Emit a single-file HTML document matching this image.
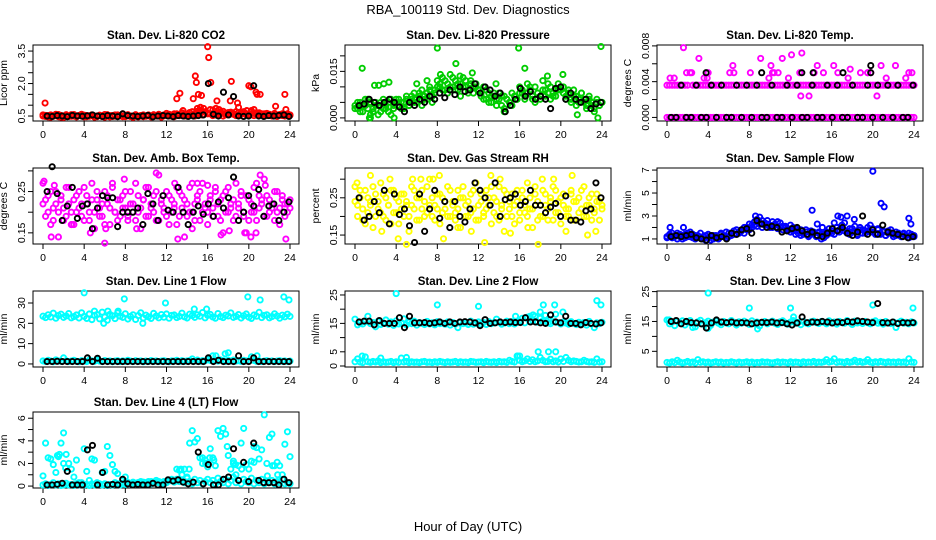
<!DOCTYPE html>
<html><head><meta charset="utf-8"><style>
html,body{margin:0;padding:0;background:#fff;}
svg{display:block;font-family:"Liberation Sans",Arial,sans-serif;}
</style></head><body>
<svg id="chart" width="936" height="540" viewBox="0 0 936 540" xmlns="http://www.w3.org/2000/svg">
<rect x="0" y="0" width="936" height="540" fill="#fff"/>
<text x="468" y="14" text-anchor="middle" font-size="13">RBA_100119  Std. Dev. Diagnostics</text>
<text x="468" y="531" text-anchor="middle" font-size="13">Hour of Day (UTC)</text>
</svg>
<script>
const xTicks=[0,4,8,12,16,20,24];

const co2Red1=[0.55,0.48,0.52,0.45,0.5,0.58,0.47,0.53,0.44,0.56,0.5,0.49,0.57,0.46,0.52,0.5,0.54,0.47,0.51,0.55,0.45,0.5,0.53,0.48,0.57,0.5,0.46,0.52,0.49,0.55,0.51,0.6,0.47,0.53,0.5,0.44,0.56,0.49,0.52,0.47,0.5,0.55,0.46,0.53,0.5,0.58,0.48,0.51,0.62,0.5,0.55,0.47,0.6,0.52,0.65,0.5,0.58,0.55,0.7,0.5,0.62,0.75,0.55,0.68,0.6,0.8,0.52,0.65,0.58,0.7,0.5,0.62,0.55,0.68,0.6,0.52,0.66,0.58,0.7,0.55,0.6,0.75,0.52,0.65,0.58,0.6,0.5,0.62,0.55,0.5,0.58,0.48,0.55,0.6,0.5,0.52,0.55];
const co2Red2=[0.5,0.53,0.46,0.55,0.49,0.52,0.57,0.45,0.5,0.54,0.48,0.56,0.5,0.47,0.53,0.58,0.46,0.52,0.49,0.55,0.5,0.47,0.54,0.51,0.45,0.56,0.52,0.48,0.55,0.5,0.53,0.47,0.52,0.56,0.48,0.5,0.54,0.46,0.51,0.55,0.49,0.52,0.47,0.56,0.5,0.53,0.45,0.55,0.52,0.58,0.5,0.6,0.55,0.52,0.62,0.57,0.5,0.66,0.54,0.6,0.72,0.58,0.55,0.7,0.62,0.6,0.78,0.55,0.64,0.6,0.72,0.56,0.66,0.6,0.58,0.7,0.55,0.62,0.68,0.6,0.55,0.7,0.62,0.58,0.65,0.55,0.6,0.52,0.58,0.55,0.62,0.5,0.57,0.52,0.55,0.6,0.53];
const co2Outliers=[[0.2,1.1],[13,1.3],[13.3,1.55],[14.6,1.3],[14.8,2.35],[14.9,2.05],[15.1,1.5],[15.4,1.45],[15.3,0.9],[16,3.7],[16.1,3.2],[16.3,2.05],[16.9,1.2],[18.3,2.1],[18.2,1.2],[18.9,1.1],[19,0.9],[20,1.9],[20.2,1.85],[20.7,1.6],[20.8,1.5],[21.1,1.5],[22.6,0.95],[23.5,1.5],[23.6,0.8],[15.6,0.85],[16.8,0.85],[17.1,0.8],[19.8,0.75],[20.5,0.8],[13.6,0.75],[15.0,0.85]];
const co2Black=[0.5,0.48,0.52,0.5,0.47,0.53,0.5,0.49,0.51,0.55,0.5,0.48,0.52,0.5,0.47,0.6,0.52,0.5,0.48,0.5,0.53,0.46,0.5,0.52,0.5,0.47,0.52,0.5,0.48,0.5,0.52,0.55,2.0,0.58,0.5,1.6,0.55,1.4,0.5,0.48,0.5,1.9,0.5,0.48,0.52,0.5,0.53,0.55,0.48];

const presGreen1=[0.004,0.003,0.005,0.002,0.004,0.006,0.001,0.003,0.005,0.004,0.002,0.006,0.003,0.005,0.001,0.004,0.006,0.004,0.005,0.003,0.006,0.004,0.007,0.005,0.006,0.008,0.004,0.007,0.006,0.009,0.005,0.008,0.010,0.011,0.009,0.012,0.008,0.010,0.013,0.009,0.011,0.007,0.010,0.012,0.009,0.011,0.008,0.010,0.009,0.008,0.006,0.009,0.005,0.007,0.008,0.004,0.006,0.007,0.003,0.006,0.005,0.004,0.007,0.006,0.008,0.009,0.006,0.008,0.010,0.007,0.005,0.008,0.006,0.009,0.007,0.011,0.006,0.008,0.007,0.009,0.010,0.008,0.006,0.009,0.005,0.007,0.004,0.006,0.008,0.005,0.003,0.006,0.004,0.002,0.005,0.004,0.005];
const presGreen2=[0.003,0.005,0.002,0.004,0.006,0.003,0.005,0.002,0.004,0.001,0.005,0.003,0.004,0.002,0.006,0.003,0.005,0.006,0.003,0.005,0.007,0.004,0.006,0.008,0.005,0.007,0.009,0.006,0.008,0.010,0.007,0.009,0.012,0.010,0.013,0.009,0.011,0.014,0.010,0.012,0.009,0.011,0.013,0.010,0.008,0.012,0.010,0.011,0.009,0.007,0.010,0.006,0.008,0.005,0.007,0.006,0.008,0.004,0.007,0.006,0.005,0.008,0.007,0.006,0.010,0.008,0.007,0.011,0.009,0.006,0.010,0.008,0.007,0.012,0.009,0.008,0.010,0.007,0.009,0.011,0.009,0.010,0.007,0.008,0.006,0.009,0.007,0.005,0.008,0.006,0.004,0.007,0.005,0.003,0.006,0.004,0.005];
const presOutliers=[[0.7,0.016],[1.9,0.0105],[2.3,0.0105],[2.8,0.011],[3.3,0.0115],[9.8,0.0175],[8.0,0.0225],[15.9,0.0225],[16.5,0.016],[23.9,0.023],[11.4,0.0145],[8.3,0.014],[1.4,0.0],[1.5,0.0],[3.8,0.0],[23.6,0.0],[18.7,0.0135],[20.2,0.014],[13.7,0.011],[21.6,0.001],[14.5,0.002],[6.0,0.011],[7.0,0.012],[10.2,0.0135]];
const presBlack=[0.004,0.0045,0.006,0.005,0.004,0.005,0.006,0.005,0.0035,0.002,0.005,0.004,0.006,0.005,0.007,0.006,0.008,0.0065,0.009,0.0075,0.010,0.0085,0.009,0.011,0.008,0.010,0.009,0.007,0.008,0.002,0.004,0.006,0.0095,0.007,0.0085,0.006,0.007,0.006,0.003,0.0095,0.010,0.006,0.008,0.006,0.005,0.006,0.003,0.0045,0.005];

const tempMag1=[0,0,0,0,0,0,0,0,0,0,0,0,0,0,0,0,0,0,0,0,0,0,0,0,0,0,0,0,0,0,0,0,0,0,0,0,0,0,0,0,0,0,0,0,0,0,0,0,0,0,0,0,0,0,0,0,0,0,0,0,0,0,0,0,0,0,0,0,0,0,0,0,0,0,0,0,0,0,0,0,0,0,0,0,0,0,0,0,0,0,0,0,0,0,0,0,0];
const tempMag2=[0.0036,0.0036,0.0036,0.0036,0.0036,0.0036,0.0036,0.0036,0.0036,0.005,0.0036,0.0036,0.0036,0.0036,0.0036,0.0036,0.0036,0.0036,0.0036,0.0036,0.0036,0.0036,0.0036,0.0036,0.0036,0.0036,0.0036,0.0036,0.0036,0.0036,0.0036,0.0036,0.0036,0.0036,0.0036,0.0036,0.0036,0.0036,0.0036,0.0036,0.0036,0.005,0.0036,0.0036,0.0036,0.0036,0.0036,0.0036,0.0036,0.0036,0.0036,0.0036,0.0036,0.0036,0.0036,0.0036,0.0036,0.0036,0.0036,0.0036,0.0036,0.0036,0.0036,0.0036,0.0036,0.0036,0.0036,0.0036,0.0036,0.0036,0.0036,0.0036,0.0036,0.0036,0.0036,0.0036,0.0036,0.0036,0.005,0.0036,0.0036,0.0036,0.0036,0.0036,0.0036,0.0036,0.0036,0.0036,0.0036,0.0036,0.0036,0.0036,0.0036,0.0036,0.0036,0.0036,0.0036];
const tempOutliers=[[0.3,0.0044],[0.7,0.0044],[1.9,0.005],[2.4,0.005],[3.1,0.0066],[3.6,0.0044],[3.9,0.0044],[4.0,0.005],[6.1,0.005],[6.4,0.0058],[8.1,0.005],[9.1,0.0066],[9.9,0.0044],[10.1,0.0058],[10.4,0.005],[11.2,0.0066],[12.1,0.007],[11.8,0.0044],[13.1,0.0072],[13.0,0.0024],[13.8,0.0024],[14.6,0.0058],[14.3,0.005],[16.2,0.0058],[17.6,0.0044],[17.8,0.0054],[19.5,0.005],[20.4,0.0024],[20.8,0.0058],[21.3,0.0044],[22.2,0.0058],[23.2,0.0044],[23.5,0.005],[1.6,0.0078],[16.6,0.005],[15.2,0.005],[10.8,0.005],[6.5,0.005],[19.8,0.005],[23.8,0.005],[12.9,0.005],[18.8,0.005]];
const tempBlack=[0,0,0.0036,0,0,0.0036,0,0,0.0036,0,0.0036,0,0,0.0036,0,0.0036,0,0.0036,0,0,0.0036,0,0,0.0036,0,0.0036,0,0,0.0036,0,0,0.0036,0,0.0036,0,0,0.0036,0,0,0.0036,0,0.0036,0,0.0036,0,0.0036,0,0,0.0036];
const tempBlackOutliers=[[3.8,0.005],[9.2,0.005],[13.1,0.005],[14.2,0.005],[17.1,0.005],[19.8,0.0058],[19.8,0.005]];

const boxMag1=[0.27,0.23,0.2,0.25,0.18,0.22,0.14,0.24,0.21,0.19,0.26,0.17,0.23,0.2,0.25,0.22,0.18,0.24,0.2,0.27,0.16,0.23,0.21,0.19,0.25,0.22,0.17,0.26,0.2,0.23,0.19,0.24,0.21,0.18,0.25,0.22,0.27,0.2,0.16,0.23,0.19,0.26,0.21,0.24,0.18,0.29,0.22,0.2,0.25,0.17,0.23,0.21,0.26,0.19,0.24,0.14,0.22,0.2,0.27,0.18,0.23,0.25,0.2,0.22,0.17,0.24,0.21,0.26,0.19,0.23,0.15,0.25,0.2,0.22,0.18,0.27,0.21,0.24,0.19,0.15,0.23,0.2,0.26,0.18,0.24,0.22,0.28,0.19,0.23,0.21,0.25,0.2,0.17,0.24,0.22,0.2,0.23];
const boxMag2=[0.22,0.19,0.24,0.17,0.21,0.25,0.2,0.23,0.18,0.26,0.22,0.2,0.17,0.24,0.21,0.19,0.26,0.22,0.18,0.23,0.2,0.25,0.19,0.22,0.17,0.24,0.21,0.27,0.2,0.18,0.23,0.21,0.25,0.19,0.22,0.2,0.18,0.24,0.21,0.23,0.26,0.19,0.22,0.2,0.25,0.18,0.23,0.21,0.19,0.24,0.2,0.22,0.17,0.25,0.21,0.23,0.19,0.26,0.2,0.22,0.24,0.18,0.27,0.21,0.2,0.23,0.19,0.25,0.22,0.18,0.24,0.2,0.26,0.21,0.23,0.19,0.22,0.25,0.2,0.24,0.18,0.22,0.2,0.27,0.21,0.23,0.19,0.24,0.2,0.22,0.18,0.25,0.21,0.23,0.19,0.22,0.21];
const boxOutliers=[[0.1,0.275],[0.8,0.14],[1.1,0.265],[2.8,0.17],[4.6,0.15],[6.0,0.125],[6.1,0.16],[7.9,0.28],[9.1,0.16],[11.0,0.295],[13.1,0.135],[12.8,0.27],[15.0,0.27],[16.0,0.265],[17.3,0.145],[18.1,0.155],[20.2,0.14],[20.7,0.15],[21.1,0.29],[21.6,0.265],[23.6,0.135],[19.6,0.15],[14.5,0.16]];
const boxBlack=[0.25,0.31,0.245,0.18,0.215,0.26,0.185,0.215,0.22,0.16,0.21,0.24,0.235,0.235,0.165,0.2,0.2,0.2,0.21,0.17,0.245,0.22,0.18,0.24,0.205,0.2,0.26,0.2,0.17,0.2,0.215,0.195,0.22,0.19,0.225,0.21,0.235,0.285,0.18,0.2,0.24,0.215,0.255,0.19,0.215,0.22,0.18,0.2,0.225];

const rhYel1=[0.28,0.23,0.25,0.19,0.27,0.21,0.24,0.17,0.26,0.22,0.29,0.2,0.25,0.23,0.18,0.27,0.21,0.24,0.26,0.2,0.23,0.16,0.28,0.22,0.25,0.19,0.27,0.24,0.21,0.3,0.2,0.23,0.26,0.18,0.25,0.22,0.28,0.2,0.24,0.21,0.27,0.17,0.25,0.23,0.2,0.26,0.22,0.29,0.19,0.24,0.21,0.27,0.23,0.18,0.25,0.2,0.28,0.22,0.16,0.26,0.24,0.2,0.23,0.27,0.19,0.25,0.21,0.29,0.22,0.17,0.26,0.24,0.2,0.27,0.23,0.19,0.25,0.28,0.21,0.24,0.18,0.26,0.22,0.2,0.27,0.24,0.19,0.25,0.22,0.28,0.2,0.23,0.26,0.21,0.24,0.19,0.23];
const rhYel2=[0.24,0.2,0.27,0.22,0.18,0.25,0.23,0.28,0.2,0.24,0.21,0.26,0.19,0.23,0.27,0.21,0.25,0.18,0.22,0.26,0.24,0.2,0.23,0.27,0.19,0.25,0.22,0.2,0.28,0.23,0.25,0.19,0.22,0.26,0.21,0.24,0.2,0.27,0.23,0.19,0.22,0.25,0.28,0.2,0.24,0.21,0.27,0.19,0.23,0.26,0.2,0.22,0.25,0.28,0.21,0.24,0.19,0.23,0.27,0.2,0.22,0.26,0.18,0.24,0.21,0.27,0.23,0.2,0.25,0.22,0.28,0.19,0.23,0.2,0.26,0.22,0.24,0.19,0.27,0.21,0.25,0.23,0.2,0.22,0.26,0.19,0.24,0.21,0.27,0.2,0.23,0.25,0.19,0.22,0.26,0.24,0.22];
const rhOutliers=[[0.2,0.29],[1.5,0.31],[2.6,0.16],[3.4,0.3],[4.2,0.14],[5.0,0.125],[5.6,0.3],[7.6,0.3],[8.2,0.31],[8.6,0.14],[10.0,0.17],[11.3,0.16],[12.6,0.13],[13.2,0.31],[14.1,0.3],[15.1,0.155],[16.8,0.17],[17.8,0.125],[19.3,0.3],[20.5,0.16],[21.1,0.31],[22.6,0.15],[23.4,0.16],[18.2,0.3],[6.4,0.3]];
const rhBlack=[0.25,0.19,0.2,0.24,0.21,0.27,0.18,0.26,0.205,0.22,0.175,0.13,0.26,0.16,0.22,0.27,0.195,0.24,0.17,0.24,0.2,0.185,0.22,0.29,0.27,0.25,0.23,0.29,0.2,0.245,0.25,0.26,0.23,0.24,0.27,0.23,0.23,0.21,0.225,0.235,0.2,0.255,0.19,0.19,0.185,0.215,0.22,0.29,0.25];

const flowBlue1=[1.2,1.4,1.1,1.3,1.5,1.2,1.0,1.4,1.2,1.6,1.1,1.3,1.2,1.5,1.0,1.3,1.1,0.9,1.3,1.2,1.0,1.4,1.2,1.1,1.5,1.3,1.7,1.4,1.6,1.8,1.5,2.0,1.8,2.2,2.5,2.1,2.4,2.6,2.2,2.3,2.0,2.5,2.2,1.9,2.4,2.1,2.0,1.8,2.2,1.7,1.9,1.5,1.8,1.4,1.6,1.3,1.7,1.5,1.2,1.6,1.4,1.1,1.3,1.5,1.7,1.4,2.0,1.8,2.2,1.7,1.5,1.9,1.6,2.1,1.4,1.8,1.5,1.7,2.0,1.6,1.9,1.5,1.8,1.4,1.6,1.3,1.7,1.5,1.2,1.6,1.4,1.2,1.5,1.3,1.1,1.4,1.2];
const flowBlue2=[1.1,1.3,1.5,1.2,1.0,1.4,1.3,1.1,1.5,1.2,1.4,1.0,1.3,1.1,1.2,0.9,1.4,1.2,1.0,1.3,1.1,1.5,1.3,1.6,1.2,1.5,1.4,1.8,1.5,1.7,2.0,1.8,2.3,2.0,2.2,2.7,2.3,2.0,2.4,2.6,2.2,2.0,2.3,2.5,2.0,1.8,2.1,1.9,1.6,2.0,1.4,1.7,1.3,1.5,1.8,1.2,1.4,1.6,1.3,1.5,1.0,1.4,1.6,1.9,1.5,2.4,2.0,1.6,1.9,2.4,1.7,1.4,1.9,1.6,1.3,2.0,1.8,1.5,1.7,2.2,1.6,1.4,1.9,1.5,1.7,1.3,1.5,1.8,1.4,1.3,1.5,1.2,1.4,1.3,1.5,1.2,1.3];
const flowOutliers=[[20,6.9],[20.8,4.1],[21.1,3.8],[23.5,2.8],[23.7,2.3],[14.1,3.5],[17.5,3.0],[16.6,3.0],[16.9,2.9],[0.3,2.0],[1.6,2.0],[8.6,3.0],[9.0,2.9],[14.6,2.3],[15.1,2.0],[18.2,2.7]];
const flowBlack=[1.2,1.3,1.2,1.3,1.4,1.1,1.0,0.9,1.3,1.1,1.2,1.0,1.5,1.4,1.8,1.9,1.5,2.6,2.3,2.0,2.1,2.0,1.6,1.7,1.9,2.0,1.7,1.4,1.6,1.3,1.2,1.5,1.9,1.7,2.0,1.5,1.3,1.6,3.0,1.4,1.8,1.4,2.2,1.6,1.5,1.4,1.2,1.1,1.2];

const l1Cyan1=[23.5,22.8,24.2,23.1,25,22.5,23.8,24.5,22.9,23.6,24.8,22.7,23.3,24.1,22.6,25.2,23.4,22.4,24.6,21.8,23.9,24.3,22.2,25.5,23.1,21.5,24.4,23.7,22.3,25.1,23.5,22.9,24.7,22.1,23.4,24.2,21.9,23.8,25.2,22.6,24,23.2,22.4,24.9,23.6,22.7,24.3,23,24.6,22.5,23.9,24.1,22.8,23.4,25,23.2,22.6,24.5,23.8,22.9,24.2,23.5,25.3,22.7,23.9,24.4,23.1,22.5,24.8,23.3,22.8,24,23.6,25.1,22.9,23.4,24.3,22.6,23.7,24.6,23,22.4,24.1,23.5,25.4,22.8,23.9,24.2,22.7,23.3,24.7,23.6,22.5,24,23.2,24.5,23.4];
const l1Cyan2=[1.5,1.2,1.8,1.4,1.1,2.0,1.5,1.3,3.0,1.6,1.2,1.4,1.8,1.3,1.1,1.6,1.4,1.2,1.9,1.5,1.3,2.0,1.4,1.2,1.7,1.3,1.5,1.1,1.4,1.6,1.2,1.5,1.3,1.8,1.4,1.2,1.6,1.3,1.5,1.1,1.4,1.2,1.7,1.3,1.5,1.2,1.4,1.6,1.3,1.1,1.5,1.4,1.8,1.2,1.6,1.3,1.5,1.7,2.5,1.4,1.9,1.3,1.6,1.5,2.2,1.7,4.0,1.8,1.4,2.0,1.6,1.3,1.8,1.5,1.9,1.4,1.6,1.3,1.8,1.5,1.4,3.5,1.7,1.3,1.5,1.2,1.4,1.6,1.3,1.5,1.2,1.4,1.6,1.3,1.5,1.2,1.4];
const l1Outliers=[[4,35],[7.9,32],[11.9,30],[19.9,33],[21.1,31.5],[23.4,33],[23.9,31.5],[15.9,27],[14.7,27],[5.9,20],[9.7,20],[17.7,5],[18.0,5.5],[20.8,4],[16.8,4],[5.0,26],[6.3,26],[7.3,26]];
const l1Black=[1.2,1.2,1.3,1.2,1.2,1.2,1.2,1.2,3.0,1.2,2.8,1.2,1.2,1.2,1.2,1.2,1.2,1.2,1.2,1.2,1.2,1.2,1.2,1.2,1.2,1.2,1.2,1.2,1.2,1.2,1.2,1.2,3.0,1.2,1.8,1.2,1.2,1.2,4.0,1.2,1.2,3.0,1.2,1.2,1.2,1.2,1.2,1.2,1.2];

const l2Cyan1=[16.5,14.5,15.2,14.8,15.6,17.5,14.9,15.3,13.8,15.7,14.6,15.1,16.2,14.7,15.5,14.3,15.9,14.8,15.2,16.6,14.5,15.4,14.9,15.8,14.4,15.3,15.0,14.6,15.7,14.8,15.2,14.5,15.6,14.9,15.1,14.7,15.5,14.4,15.3,14.8,13.5,15.4,14.9,15.2,14.6,15.8,14.7,15.0,15.5,14.8,15.3,14.6,15.6,14.9,15.2,16.5,15.4,14.7,15.1,15.8,14.9,15.6,14.8,15.3,15.7,16.8,15.2,17.2,15.6,16.0,17.5,15.4,16.8,15.9,17.8,15.2,14.9,15.6,18.2,15.3,14.8,15.5,15.1,14.7,15.6,15.0,14.6,15.4,14.9,15.3,14.4,15.7,14.8,13.5,15.2,14.9,15.4];
const l2Cyan2=[1.5,2.5,1.4,1.2,3.2,1.5,1.3,1.6,1.4,1.8,1.2,1.5,1.3,1.4,1.6,1.2,1.5,1.3,2.8,1.4,1.6,1.2,1.5,1.3,1.4,1.2,1.5,1.6,1.3,1.4,1.2,1.5,1.3,1.6,1.4,1.2,1.5,1.3,1.4,1.6,1.2,1.5,1.3,1.4,1.2,1.6,1.5,1.3,1.4,1.5,1.2,1.6,1.4,1.3,1.5,1.2,1.6,1.4,1.5,1.3,2.0,1.6,1.4,3.5,2.0,1.5,1.8,2.5,1.6,2.2,1.5,1.8,3.0,2.0,1.5,1.6,2.4,1.5,1.8,1.4,2.5,1.6,3.0,2.0,1.5,1.8,1.6,1.4,1.5,2.0,1.6,1.4,1.5,1.3,2.5,1.4,1.5];
const l2Outliers=[[4,25.5],[8,21.5],[12,21],[16.7,17],[17,17.5],[17.3,18],[18,19],[18.3,21.5],[19,18],[19.4,21.5],[18.8,16.5],[23.5,23],[23.9,21.5],[20.2,19],[15.8,3.5],[16.0,3.5],[17.8,5],[18.8,5],[19.5,5],[0.7,3.5],[2.5,2.8],[5.0,3.0],[18.6,16],[15.6,17.5]];
const l2Black=[15.5,15.8,15.8,14.5,16,15,15,15,17,13.5,17.5,15.2,15.2,15.3,15,15.2,15.5,15,15.5,15,15.5,15.6,15.5,15.2,14.2,16.3,15,15.2,15.5,15.3,15.5,15.3,15.3,17,15.5,15.5,15.2,15,18,15.5,15.2,17.5,15,15,14.5,15.3,15,14.8,15.2];

const l3Cyan1=[15.5,14.2,14.8,13.6,15.0,14.5,15.2,13.8,14.7,15.3,14.3,13.2,14.9,15.4,14.1,14.6,15.1,13.7,14.8,15.2,14.4,13.9,15.0,14.5,14.2,15.3,14.7,13.8,14.9,14.4,15.1,14.6,14.0,15.2,14.3,14.8,13.5,14.6,15.0,14.2,14.7,15.1,14.4,14.0,14.9,15.2,14.5,14.1,14.8,15.3,14.4,14.7,13.9,15.0,14.5,14.2,14.9,15.1,14.6,14.3,15.0,14.7,14.2,15.2,14.5,14.8,14.1,15.0,14.6,14.4,15.3,14.7,14.0,15.1,14.5,14.8,14.3,15.0,14.6,14.2,14.9,15.2,14.4,14.7,14.1,15.0,14.5,14.3,14.8,13.0,14.6,15.1,14.4,14.7,14.2,14.9,14.5];
const l3Cyan2=[1.3,1.1,1.5,1.2,2.0,1.4,1.1,1.3,1.6,1.2,1.4,1.1,2.2,1.3,1.5,1.2,1.4,1.1,1.3,1.5,1.2,1.4,1.1,1.3,1.2,1.5,1.3,1.1,1.4,1.2,1.3,1.5,1.2,1.4,1.1,1.3,1.2,1.5,1.3,1.4,1.2,1.1,1.3,1.5,1.2,1.4,1.3,1.1,1.5,1.2,1.4,1.3,1.1,1.5,1.2,1.4,1.3,1.6,1.2,1.4,1.3,1.5,2.2,1.4,1.6,2.5,1.3,1.5,1.4,1.2,1.6,1.3,1.5,2.0,1.4,1.6,1.3,1.5,2.2,1.4,1.2,1.5,1.3,1.6,1.4,1.2,1.5,1.3,1.4,1.2,1.5,1.3,1.4,1.2,2.5,1.4,1.3];
const l3Outliers=[[4,24.5],[8,19.5],[12,19.5],[12.3,16.5],[20,20.5],[23.9,19.5],[4,12.7],[8.8,12.5],[0.2,15.5],[2.5,13]];
const l3Black=[15,15.3,14.2,15,14.6,14.5,14.2,12.8,14.5,15.5,14.8,14.6,14.8,14.5,14.6,14.5,14.2,14.5,14.7,14.6,14.8,14.5,14.6,14.2,13.8,14.5,16.5,14.6,14.8,14.7,15,14.8,14.5,14.8,14.6,15,14.8,15.2,15,14.8,14.6,21,14.6,14.5,14.8,14.3,14.6,14.5,14.6];

const l4Cyan1=[0.1,0.2,0.05,0.15,0.3,0.1,0.2,0.05,0.1,0.25,0.1,0.15,0.05,0.2,0.1,0.3,0.1,0.15,0.05,0.2,0.1,0.25,0.15,0.1,0.2,0.05,0.15,0.1,0.3,0.2,0.1,0.25,0.15,0.3,0.2,0.35,0.25,0.3,0.2,0.35,0.25,0.3,0.4,0.25,0.35,0.3,0.2,0.4,0.3,0.45,0.5,0.35,0.6,0.4,0.5,0.3,0.7,0.4,0.2,0.6,0.3,0.5,0.2,0.4,0.6,0.3,0.5,0.2,0.7,0.4,0.3,0.6,0.2,0.5,0.8,0.3,0.5,0.2,0.6,0.4,0.3,0.7,0.2,0.5,0.3,0.6,0.2,0.4,0.3,0.5,0.2,0.4,0.3,0.6,0.2,0.3,0.2];
const l4Cyan2=[0.9,3.8,2.5,2.4,1.9,1.2,2.6,3.8,4.7,2.8,2.0,1.5,0.8,2.3,0.3,0.2,3.3,1.3,0.5,2.4,2.3,0.3,0.2,1.2,1.3,3.5,2.7,1.9,1.3,1.1,0.2,0.5,0.8,0.3,0.2,0.3,0.2,0.3,0.4,0.2,0.3,0.4,0.2,0.3,0.5,0.4,0.3,0.2,0.4,0.5,0.6,0.4,1.5,1.4,1.0,1.5,0.8,3.8,4.9,3.9,4.2,2.5,2.0,2.3,1.7,3.3,2.5,1.8,4.9,4.4,5.1,4.6,2.7,1.5,2.0,1.0,1.8,3.8,5.1,1.9,1.5,2.2,3.5,3.4,2.4,3.2,6.3,2.0,4.3,4.6,1.8,2.1,1.8,1.0,3.7,4.8,2.6];
const l4Outliers=[[1.6,2.8],[1.4,2.7],[2.0,2.0],[2.2,1.6],[15.5,2.5],[15.8,2.0],[16.2,2.5],[16.6,2.3],[17.9,3.5],[18.5,2.2],[18.7,1.9],[19.3,1.5],[20.5,2.1],[22.3,1.8],[21.8,0.9],[22.8,1.0],[13.4,1.5],[14.2,1.5]];
const l4Black=[0.1,0.1,0.15,0.25,1.3,0.1,0.1,0.1,3.2,3.6,0.1,1.2,0.1,0.15,0.1,0.6,0.2,0.1,0.15,0.1,0.1,0.25,0.1,0.1,0.55,0.45,0.55,0.35,0.2,0.35,3.0,0.2,1.9,0.1,0.1,0.6,0.8,3.3,0.5,2.1,0.4,3.8,0.5,0.3,0.3,0.3,0.1,0.6,0.3];

const svg=document.getElementById('chart');
const NS='http://www.w3.org/2000/svg';
const rowTops=[45,168,291,412];
function mk(tag,attrs,parent){const e=document.createElementNS(NS,tag);for(const k in attrs)e.setAttribute(k,attrs[k]);parent.appendChild(e);return e;}

function panel(p){
  const left=33+p.col*312, right=left+266, top=rowTops[p.row], bottom=top+76;
  const g=mk('g',{},svg);
  
  
  const xs=h=>left+10+h*(247/24);
  const ys=v=>bottom-(v-p.ylim[0])/(p.ylim[1]-p.ylim[0])*76;
  const t=mk('text',{x:(left+right)/2,y:top-6,'text-anchor':'middle','font-size':'11.5','font-weight':'bold'},g);
  t.textContent=p.title;
  
  
  const yt=mk('text',{x:0,y:0,'text-anchor':'middle','font-size':'10.5',transform:`translate(${left-26},${(top+bottom)/2}) rotate(-90)`},g);
  yt.textContent=p.ytitle;
  
  
  const xa=mk('g',{},g);
  
  
  mk('line',{x1:xs(xTicks[0]),x2:xs(xTicks[xTicks.length-1]),y1:bottom,y2:bottom,stroke:'#000','stroke-width':1},xa);
  xTicks.forEach(h=>{
    mk('line',{x1:xs(h),x2:xs(h),y1:bottom,y2:bottom+5,stroke:'#000'},xa);
    const l=mk('text',{x:xs(h),y:bottom+17,'text-anchor':'middle','font-size':'10.5'},xa);
    l.textContent=h;
  });
  const ya=mk('g',{},g);
  
  
  mk('line',{x1:left,x2:left,y1:ys(p.ticks[0]),y2:ys(p.ticks[p.ticks.length-1]),stroke:'#000'},ya);
  p.ticks.forEach((v,i)=>{
    mk('line',{x1:left-5,x2:left,y1:ys(v),y2:ys(v),stroke:'#000'},ya);
    if(p.labels[i]!==''){
      const l=mk('text',{x:0,y:0,'text-anchor':'middle','font-size':'10.5',transform:`translate(${left-8},${ys(v)}) rotate(-90)`},ya);
      l.textContent=p.labels[i];
    }
  });
  const box=mk('rect',{x:left,y:top,width:right-left,height:bottom-top,fill:'none',stroke:'#000','stroke-width':1},g);
  
  
  const pts=mk('g',{},g);
  function dot(h,v,color,nm){
    const c=mk('circle',{cx:xs(h),cy:ys(v),r:2.6,fill:'none',stroke:color,'stroke-width':1.9},pts);
    
    
  }
  [p.c1,p.c2].forEach(arr=>arr.forEach((v,i)=>dot(i*24/(arr.length-1),v,p.color,p.name+'-point')));
  p.co.forEach(d=>dot(d[0],d[1],p.color,p.name+'-point'));
  p.k.forEach((v,i)=>dot(0.4+i*23.5/(p.k.length-1),v,'#000',p.name+'-avg-point'));
  (p.ko||[]).forEach(d=>dot(d[0],d[1],'#000',p.name+'-avg-point'));
}

panel({name:'co2',col:0,row:0,title:'Stan. Dev. Li-820 CO2',ytitle:'Licor ppm',ylim:[0.27,3.78],ticks:[0.5,1.0,1.5,2.0,2.5,3.0,3.5],labels:['0.5','','','2.0','','','3.5'],color:'#ff0000',c1:co2Red1,c2:co2Red2,co:co2Outliers,k:co2Black});
panel({name:'pressure',col:1,row:0,title:'Stan. Dev. Li-820 Pressure',ytitle:'kPa',ylim:[-0.001,0.0235],ticks:[0,0.005,0.01,0.015,0.02],labels:['0.000','','','0.015',''],color:'#00cd00',c1:presGreen1,c2:presGreen2,co:presOutliers,k:presBlack});
panel({name:'li820-temp',col:2,row:0,title:'Stan. Dev. Li-820 Temp.',ytitle:'degrees C',ylim:[-0.0004,0.0081],ticks:[0,0.002,0.004,0.006,0.008],labels:['0.000','','0.004','','0.008'],color:'#ff00ff',c1:tempMag1,c2:tempMag2,co:tempOutliers,k:tempBlack,ko:tempBlackOutliers});
panel({name:'box-temp',col:0,row:1,title:'Stan. Dev. Amb. Box Temp.',ytitle:'degrees C',ylim:[0.123,0.307],ticks:[0.15,0.2,0.25,0.3],labels:['0.15','','0.25',''],color:'#ff00ff',c1:boxMag1,c2:boxMag2,co:boxOutliers,k:boxBlack});
panel({name:'gas-rh',col:1,row:1,title:'Stan. Dev. Gas Stream RH',ytitle:'percent',ylim:[0.126,0.33],ticks:[0.15,0.2,0.25,0.3],labels:['0.15','','0.25',''],color:'#ffff00',c1:rhYel1,c2:rhYel2,co:rhOutliers,k:rhBlack});
panel({name:'sample-flow',col:2,row:1,title:'Stan. Dev. Sample Flow',ytitle:'ml/min',ylim:[0.56,7.18],ticks:[1,2,3,4,5,6,7],labels:['1','','3','','5','','7'],color:'#0000ff',c1:flowBlue1,c2:flowBlue2,co:flowOutliers,k:flowBlack});
panel({name:'line1-flow',col:0,row:2,title:'Stan. Dev. Line 1 Flow',ytitle:'ml/min',ylim:[-1.5,35.9],ticks:[0,10,20,30],labels:['0','10','20','30'],color:'#00ffff',c1:l1Cyan1,c2:l1Cyan2,co:l1Outliers,k:l1Black});
panel({name:'line2-flow',col:1,row:2,title:'Stan. Dev. Line 2 Flow',ytitle:'ml/min',ylim:[-0.35,26.4],ticks:[0,5,10,15,20,25],labels:['0','5','','15','','25'],color:'#00ffff',c1:l2Cyan1,c2:l2Cyan2,co:l2Outliers,k:l2Black});
panel({name:'line3-flow',col:2,row:2,title:'Stan. Dev. Line 3 Flow',ytitle:'ml/min',ylim:[-0.25,25.2],ticks:[5,10,15,20,25],labels:['5','','15','','25'],color:'#00ffff',c1:l3Cyan1,c2:l3Cyan2,co:l3Outliers,k:l3Black});
panel({name:'line4-flow',col:0,row:3,title:'Stan. Dev. Line 4 (LT) Flow',ytitle:'ml/min',ylim:[-0.17,6.55],ticks:[0,1,2,3,4,5,6],labels:['0','','2','','4','','6'],color:'#00ffff',c1:l4Cyan1,c2:l4Cyan2,co:l4Outliers,k:l4Black});
</script>
</body></html>
